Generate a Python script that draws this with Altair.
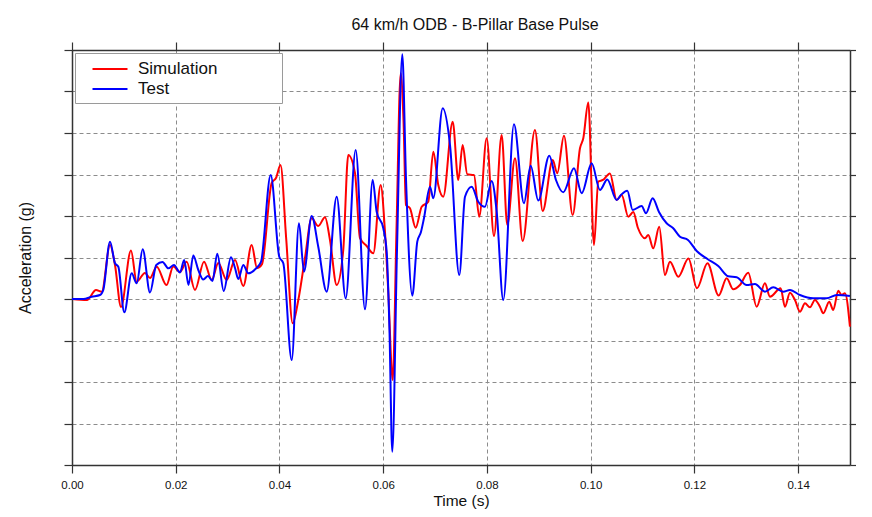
import altair as alt
import pandas as pd

# Simulation (red) trace: time in ms, acceleration in g
sim_t = [0.0, 2.89, 4.63, 5.73, 7.33, 8.29, 9.45, 11.37, 12.47, 14.07, 15.04, 16.33, 18.22, 19.53,
         20.82, 22.11, 23.71, 25.45, 26.93, 28.21, 29.82, 31.43, 33.03, 34.64, 35.67, 36.63, 38.50,
         39.33, 40.20, 41.30, 42.55, 43.63, 44.92, 46.21, 47.48, 48.78, 49.74, 51.03, 52.30, 53.27,
         54.56, 55.52, 56.81, 58.09, 59.51, 60.34, 60.98, 61.83, 62.56, 63.37, 63.91, 64.39, 65.16,
         66.26, 67.42, 68.69, 69.66, 70.62, 71.58, 73.40, 74.48, 75.32, 76.21, 77.50, 78.52, 79.95,
         81.36, 82.84, 83.92, 85.41, 86.89, 89.26, 90.75, 92.68, 93.56, 94.85, 96.53, 97.94, 98.58,
         99.54, 100.64, 101.47, 102.37, 103.72, 105.01, 105.98, 107.25, 108.21, 109.12, 110.47,
         111.10, 112.07, 113.22, 114.32, 115.29, 116.89, 118.86, 120.49, 122.52, 124.68, 126.22,
         127.49, 128.78, 130.38, 132.00, 133.60, 134.57, 136.63, 137.46, 138.42, 139.39, 140.35,
         141.32, 142.28, 143.24, 144.21, 144.84, 146.00, 146.77, 147.74, 148.39, 149.03, 149.99]
sim_a = [0.0, -0.24, 2.17, 1.76, 13.0, 8.19, -1.93, 11.69, 4.17, 6.27, 5.06, 7.78, 3.37, 7.83,
         6.51, 8.99, 2.17, 8.99, 4.58, 8.68, 4.58, 9.40, 3.13, 13.01, 7.47, 8.4, 27.96,
         29.16, 32.29, 14.5, -5.86, -0.24, 9.88, 19.45, 17.59, 19.69, 14.22, 3.37, 11.81, 34.70,
         30.37, 14.70, 12.77, 11.01, 27.47, 16.22, 1.76, -19.52, 16.63, 54.39, 43.14, 22.65, 21.86,
         17.18, 22.24, 23.45, 35.50, 27.47, 24.65, 42.73, 28.68, 37.11, 30.05, 29.88, 19.83, 38.73,
         15.18, 39.52, 17.83, 33.91, 13.98, 40.73, 21.21, 33.50, 30.29, 39.36, 20.24, 36.32, 38.73,
         47.36, 13.01, 28.27, 28.68, 30.25, 23.86, 25.06, 19.83, 20.97, 17.11, 14.63,
         15.42, 12.22, 17.42, 5.78, 8.99, 5.37, 9.76, 2.58, 8.60, 0.84, 4.99,
         2.34, 3.37, 6.34, -1.86, 3.78, 0.55, 2.58, -1.86, 1.52, -0.24, -3.06,
         -1.04, -2.00, -0.24, -1.86, -3.45, -0.65, -2.65, 2.00, 0.96, 1.37, -6.68]

# Test (blue) trace
test_t = [0.0, 2.18, 3.80, 5.40, 6.03, 7.33, 8.29, 8.93, 10.08, 11.51, 12.47, 13.63, 15.04, 16.25,
          17.45, 18.57, 19.66, 20.82, 21.63, 22.46, 23.38, 24.35, 25.31, 26.22, 27.09, 28.01, 29.25,
          30.65, 31.43, 32.06, 33.03, 33.99, 35.47, 36.44, 38.31, 39.96, 40.74, 42.36, 43.76, 44.73,
          46.21, 47.48, 49.10, 51.03, 52.77, 54.69, 56.49, 57.97, 58.74, 60.02, 60.67, 61.21, 61.75,
          62.66, 63.68, 64.39, 65.61, 66.57, 67.28, 67.86, 69.02, 69.66, 71.47, 72.88, 74.67, 75.77,
          77.06, 78.33, 79.62, 80.91, 81.88, 83.15, 85.21, 87.14, 88.43, 89.90, 92.02, 93.31, 94.72,
          96.78, 98.27, 100.19, 101.79, 103.20, 105.01, 105.84, 107.06, 108.10, 109.83, 110.66,
          111.95, 113.17, 114.65, 115.87, 117.22, 118.76, 120.44, 122.52, 124.60, 126.53, 128.15,
          130.07, 131.67, 133.60, 135.20, 137.13, 138.42, 140.35, 142.91, 145.50, 147.43, 149.99]
test_a = [0.0, 0.0, 0.55, 0.96, 2.17, 13.81, 8.60, 7.78, -3.21, 6.19, 3.78, 11.98, 1.57, 8.19,
          8.92, 7.40, 8.19, 6.39, 9.40, 3.37, 10.48, 6.99, 4.70, 5.54, 4.34, 10.92, 1.93,
          10.05, 7.47, 4.82, 8.19, 6.19, 7.35, 8.92, 29.88, 10.19, 8.60, -14.70, 18.24, 6.58,
          20.00, 12.60, 1.76, 24.65, 0.17, 35.91, -2.48, 28.68, 21.04, 17.04, 11.40, -7.47, -36.80,
          11.81, 58.97, 29.16, 0.80, 13.81, 16.15, 19.45, 27.06, 24.27, 45.96, 37.11, 5.78, 24.65,
          27.06, 23.45, 22.24, 28.44, 21.04, -0.24, 42.10, 23.06, 32.13, 23.74, 34.54, 28.68, 25.71,
          31.50, 25.47, 32.70, 26.27, 28.80, 23.86, 25.06, 26.10, 21.45, 22.41, 20.65,
          24.27, 20.97, 18.24, 17.11, 15.01, 14.22, 11.57, 9.64, 7.95, 5.47, 5.23,
          3.37, 3.62, 1.76, 2.82, 1.76, 2.17, 0.96, 0.17, 0.17, 0.96, 0.72]

series_names = ["Simulation", "Test"]
series_colors = ["#ff0000", "#0000ff"]
x_ticks = [0.0, 0.02, 0.04, 0.06, 0.08, 0.10, 0.12, 0.14]
y_ticks = [-40, -30, -20, -10, 0, 10, 20, 30, 40, 50, 60]

rows = []
for t, a in zip(sim_t, sim_a):
    rows.append({"t": t / 1000.0, "a": a, "series": series_names[0], "o": len(rows)})
for t, a in zip(test_t, test_a):
    rows.append({"t": t / 1000.0, "a": a, "series": series_names[1], "o": len(rows)})
df = pd.DataFrame(rows)

FONT = "Liberation Sans"
xscale = alt.Scale(domain=[0, 0.15], nice=False, zero=False)
yscale = alt.Scale(domain=[-40, 60], nice=False, zero=False)

lines = alt.Chart(df).mark_line(strokeWidth=2, interpolate="monotone").encode(
    x=alt.X("t:Q", scale=xscale, axis=alt.Axis(
        orient="bottom", values=x_ticks, format=".2f", title="Time (s)",
        grid=True, gridDash=[4, 3], gridColor="#8c8c8c", gridWidth=1,
        domainColor="#333333", domainWidth=1.5, tickColor="#333333", tickSize=8, tickWidth=1.2,
        labelFont=FONT, labelFontSize=11.5, labelColor="#111111", labelPadding=6,
        labelFlush=False, labelOverlap=False,
        titleFont=FONT, titleFontSize=15.5, titleFontWeight="normal", titleColor="#111111",
        titlePadding=3)),
    y=alt.Y("a:Q", scale=yscale, axis=alt.Axis(
        orient="left", values=y_ticks, labels=False, title="Acceleration (g)",
        grid=True, gridDash=[4, 3], gridColor="#8c8c8c", gridWidth=1,
        domainColor="#333333", domainWidth=1.5, tickColor="#333333", tickSize=8, tickWidth=1.2,
        titleFont=FONT, titleFontSize=16, titleFontWeight="normal", titleColor="#111111",
        titlePadding=30)),
    color=alt.Color("series:N", scale=alt.Scale(domain=series_names, range=series_colors),
                    legend=alt.Legend(
                        title="_______", titleOrient="right", titleFontSize=15,
                        titleColor="white", titlePadding=0,
                        orient="none", legendX=3, legendY=3,
                        direction="vertical", symbolType="M-2,0H2", symbolSize=306,
                        symbolStrokeWidth=2, labelFont=FONT, labelFontSize=17,
                        labelColor="#111111", padding=6, rowPadding=2,
                        symbolOffset=19, labelOffset=18,
                        strokeColor="#9a9a9a", fillColor="white", labelLimit=300)),
    order="o:Q",
)

frame = alt.Chart(df).mark_point(opacity=0).encode(
    x=alt.X("t:Q", scale=xscale, axis=alt.Axis(
        orient="top", values=x_ticks, labels=False, title=None, grid=False,
        domainColor="#333333", domainWidth=1.5, tickColor="#333333", tickSize=8, tickWidth=1.2)),
    y=alt.Y("a:Q", scale=yscale, axis=alt.Axis(
        orient="right", values=y_ticks, labels=False, title=None, grid=False,
        domainColor="#333333", domainWidth=1.5, tickColor="#333333", tickSize=8, tickWidth=1.2)),
)

chart = alt.layer(lines, frame).resolve_axis(x="independent", y="independent").properties(
    width=778, height=415,
    padding={"left": 64, "top": 42, "right": 6, "bottom": 44},
    autosize=alt.AutoSizeParams(type="none"),
    title=alt.Title("64 km/h ODB - B-Pillar Base Pulse", font=FONT, fontSize=16,
                    fontWeight="normal", color="#111111", offset=8, dx=14),
).configure_view(stroke=None)

chart.save("out.html", embed_options={"renderer": "svg", "actions": False})
